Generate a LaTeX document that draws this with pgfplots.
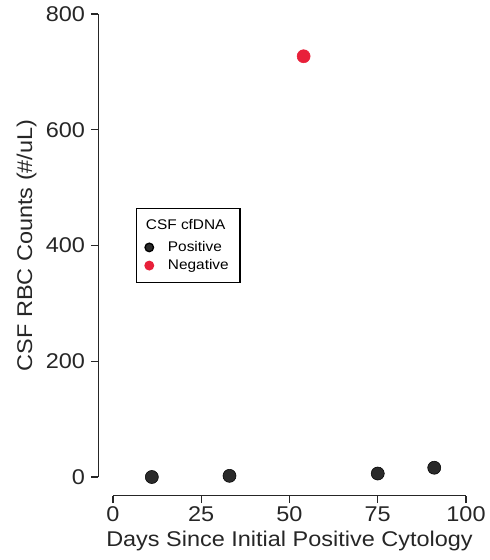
\documentclass[border=0pt]{standalone}
\usepackage{fontspec}
\setmainfont{Liberation Sans}[FakeStretch=1.1]
\usepackage{pgfplots}
\pgfplotsset{compat=1.18}
\definecolor{ptblack}{HTML}{2A2A2A}
\definecolor{ptred}{HTML}{E8203A}

\begin{document}
\begin{tikzpicture}
\useasboundingbox (-84.75pt,-62.25pt) rectangle (282pt,357.75pt);
\begin{axis}[
  at={(0,0)}, anchor=south west,
  scale only axis,
  width=264.75pt, height=347.25pt,
  xmin=0, xmax=100, ymin=0, ymax=800,
  axis x line*=bottom, axis y line*=left,
  axis x line shift=14pt, axis y line shift=11pt,
  axis line style={-, line width=0.9pt, black!85},
  xtick={0,25,50,75,100}, ytick={0,200,400,600,800},
  tick align=outside, major tick length=5.5pt,
  tick style={line width=0.9pt, black!85},
  /pgf/number format/assume math mode=true,
  ticklabel style={font=\fontsize{16}{18}\selectfont, black!85},
  xticklabel style={yshift=1pt},
  yticklabel style={xshift=-1pt},
  xlabel={Days Since Initial Positive Cytology},
  ylabel={CSF RBC Counts (\#/uL)},
  label style={font=\fontsize{16}{18}\selectfont, black!85},
  clip=false,
  legend style={at={(axis cs:6.5,465)}, anchor=north west, draw=black,
    line width=1pt, font=\fontsize{10.5}{12}\selectfont,
    inner xsep=3pt, inner ysep=6pt, row sep=0.5pt},
  legend cell align=left,
  legend image code/.code={\draw[#1, mark size=3.2pt] plot coordinates {(0pt,0pt)}; \path (-6pt,0pt) (11.5pt,0pt);},
]
\addlegendimage{empty legend}
\addlegendentry{\hspace{-16.5pt}\raisebox{3pt}{CSF cfDNA}}
\addplot[only marks, mark=*, mark size=4.9pt, color=ptblack, mark options={fill=ptblack, draw=black}]
  coordinates {(11,0) (33,2) (75,6) (91,16)};
\addlegendentry{Positive}
\addplot[only marks, mark=*, mark size=4.9pt, color=ptred, mark options={fill=ptred, draw=ptred}]
  coordinates {(54,727)};
\addlegendentry{Negative\rule{3.5pt}{0pt}}
\end{axis}
\end{tikzpicture}
\end{document}
